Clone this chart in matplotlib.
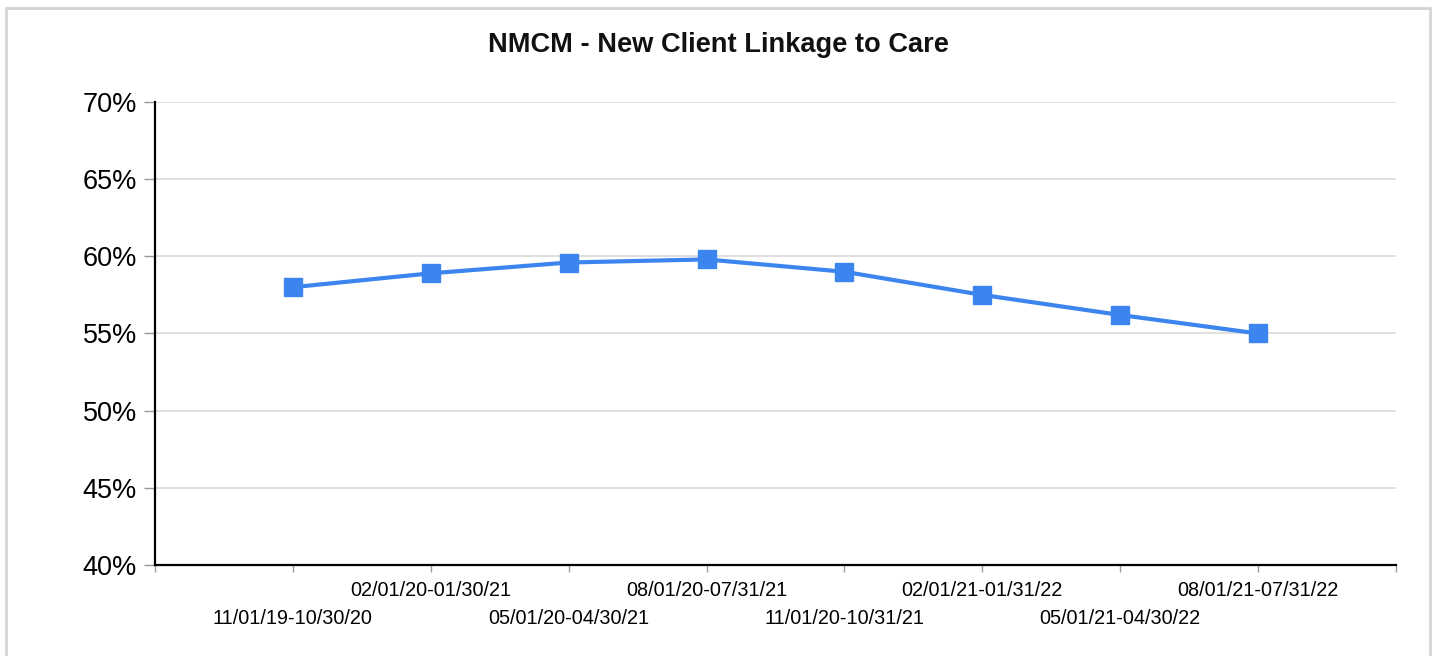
import matplotlib
matplotlib.use("Agg")
import matplotlib.pyplot as plt
from matplotlib.patches import Rectangle
from matplotlib.ticker import FixedLocator, FuncFormatter

plt.rcParams['font.family'] = ['Liberation Sans', 'DejaVu Sans']

title = "NMCM - New Client Linkage to Care"
categories = ["11/01/19-10/30/20", "02/01/20-01/30/21", "05/01/20-04/30/21",
              "08/01/20-07/31/21", "11/01/20-10/31/21", "02/01/21-01/31/22",
              "05/01/21-04/30/22", "08/01/21-07/31/22"]
values = [58.0, 58.9, 59.6, 59.8, 59.0, 57.5, 56.2, 55.0]
yticks = [40, 45, 50, 55, 60, 65, 70]

W, H = 1437, 656
fig = plt.figure(figsize=(W / 100, H / 100), dpi=100)
fig.patch.set_facecolor('white')
# outer light border
fig.patches.append(Rectangle((6 / W, -0.05), (1430 - 6) / W, 1.05 - 8 / H,
                             transform=fig.transFigure, fill=False,
                             edgecolor='#d4d4d4', linewidth=2))

ax = fig.add_axes([155 / W, 1 - 565 / H, (1396 - 155) / W, (565 - 102) / H])
x = list(range(len(categories)))
ax.plot(x, values, color='#3d85ee', linewidth=3, marker='s', markersize=13.5,
        markerfacecolor='#3d85ee', markeredgecolor='#3d85ee', zorder=3)

ax.set_xlim(-1, len(categories))
ax.set_ylim(40, 70)
ax.set_yticks(yticks)
ax.yaxis.set_major_formatter(FuncFormatter(lambda v, p: f"{v:.0f}%"))
ax.grid(axis='y', color='#d9d9d9', linewidth=1.2)
ax.set_axisbelow(True)

for s in ['top', 'right']:
    ax.spines[s].set_visible(False)
for s in ['left', 'bottom']:
    ax.spines[s].set_color('black')
    ax.spines[s].set_linewidth(1.6)

# staggered x labels: odd on major (upper row), even on minor (lower row)
odd_pos = [i for i in x if i % 2 == 1]
even_pos = [-1] + [i for i in x if i % 2 == 0] + [len(categories)]
ax.xaxis.set_major_locator(FixedLocator(odd_pos))
ax.set_xticklabels([categories[i] for i in odd_pos])
ax.xaxis.set_minor_locator(FixedLocator(even_pos))
ax.set_xticklabels([''] + [categories[i] for i in x if i % 2 == 0] + [''], minor=True)

ax.tick_params(axis='x', which='major', length=5, width=1, color='#999999',
               labelsize=14.3, pad=6.5)
ax.tick_params(axis='x', which='minor', length=5, width=1, color='#999999',
               labelsize=14.3, pad=26.5)
ax.tick_params(axis='y', length=8, width=1, color='#999999', labelsize=19.5, pad=5)

fig.text(0.5, 1 - 45 / H, title, ha='center', va='center',
         fontsize=19.6, fontweight='bold', color='#111111')

fig.savefig('out.png', dpi=100, facecolor='white')
